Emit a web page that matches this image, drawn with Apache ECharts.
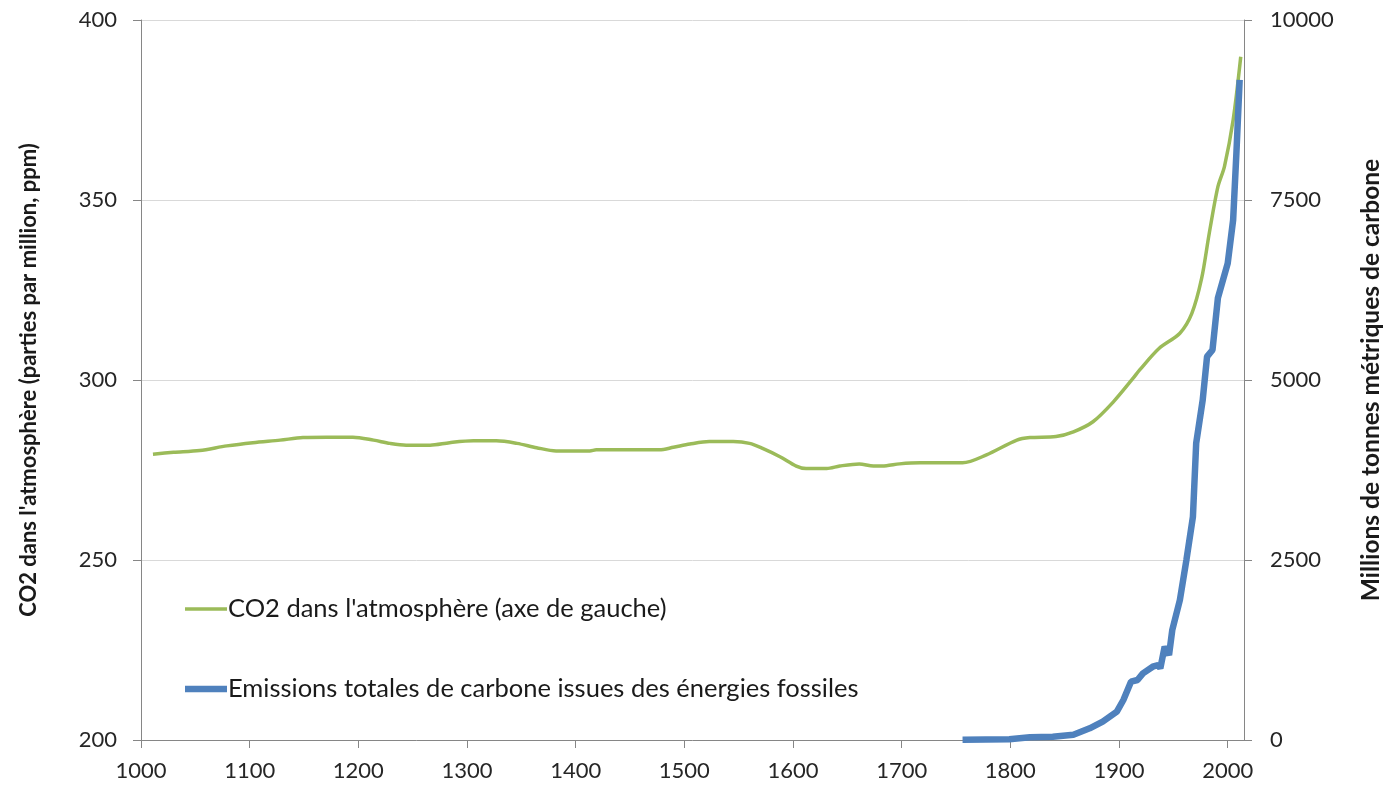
<!DOCTYPE html>
<html>
<head>
<meta charset="utf-8">
<script src="https://cdn.jsdelivr.net/npm/echarts@6/dist/echarts.min.js"></script>
<style>
  html, body { margin: 0; padding: 0; background: #fff; }
  #chart { width: 1384px; height: 788px; }
</style>
</head>
<body>
<div id="chart"></div>
<script>
// CO2 atmosphere (ppm), left axis
const co2Years = [1011, 1030, 1054, 1079, 1103, 1128, 1149, 1171, 1195, 1214, 1229, 1244, 1266, 1284, 1306, 1327, 1346, 1364,
  1382, 1413, 1419, 1477, 1490, 1505, 1523, 1545, 1560, 1572, 1588, 1603, 1612, 1631, 1643, 1661, 1674, 1686, 1698, 1717,
  1756, 1778, 1806, 1818, 1842, 1858, 1876, 1895, 1913, 1919, 1937, 1956, 1967, 1976, 1983, 1991, 1997, 2005, 2012]
const co2Ppm = [279.4, 279.9, 280.4, 281.7, 282.6, 283.3, 284.0, 284.1, 284.1, 283.3, 282.4, 281.9, 281.9, 282.6, 283.1, 283.1, 282.4, 281.2,
  280.3, 280.3, 280.6, 280.6, 281.3, 282.2, 282.9, 282.9, 282.4, 281.0, 278.7, 276.1, 275.4, 275.4, 276.1, 276.7, 276.1, 276.2, 276.7, 277.0,
  277.0, 279.2, 283.3, 284.0, 284.3, 285.6, 288.4, 294.0, 300.5, 302.8, 308.8, 313.0, 318.5, 328.2, 340.7, 353.7, 359.3, 372.2, 389.8]

// fossil carbon emissions (million tonnes), right axis
const emiYears = [1756, 1799, 1818, 1839, 1858, 1873, 1885, 1898, 1904, 1911, 1917, 1922, 1931, 1936, 1938, 1942, 1946, 1949,
  1956, 1962, 1968, 1971, 1977, 1981, 1986, 1991, 2000, 2005, 2008, 2011]
const emiMt = [5, 10, 37, 46, 74, 162, 255, 394, 556, 810, 833, 926, 1018, 1042, 996, 1296, 1181, 1528,
  1944, 2500, 3101, 4121, 4722, 5324, 5417, 6140, 6620, 7222, 8148, 9167]

const xTicks = [1000, 1100, 1200, 1300, 1400, 1500, 1600, 1700, 1800, 1900, 2000]
const leftTicks = [200, 250, 300, 350, 400]
const rightTicks = [0, 2500, 5000, 7500, 10000]

const FONT = 'Lato, "Open Sans", sans-serif'
const GREEN = '#9bbb59'
const BLUE = '#4f81bd'
const CO2_NAME = 'CO2 dans l\'atmosphère (axe de gauche)'
const EMI_NAME = 'Emissions totales de carbone issues des énergies fossiles'

const plain = v => String(v)

const chart = echarts.init(document.getElementById('chart'))
chart.setOption({
  animation: false,
  textStyle: { fontFamily: FONT },
  grid: { left: 141, right: 140, top: 20, bottom: 48, containLabel: false, outerBoundsMode: 'none' },
  legend: {
    orient: 'vertical',
    left: 180,
    top: 591,
    itemGap: 54,
    itemWidth: 42,
    itemHeight: 14,
    symbolKeepAspect: true,
    textStyle: { fontSize: 25.5, color: '#1a1a1a', fontFamily: FONT, padding: [0, 0, 0, -4] },
    data: [
      { name: CO2_NAME, icon: 'path://M0,0 L42,0 L42,3.5 L0,3.5 Z' },
      { name: EMI_NAME, icon: 'path://M0,0 L42,0 L42,6.5 L0,6.5 Z' }
    ]
  },
  xAxis: {
    type: 'value',
    min: 1000,
    max: 2015,
    interval: 100,
    axisLine: { lineStyle: { color: '#868686', width: 1 } },
    axisTick: { show: true, length: 8, customValues: xTicks, lineStyle: { color: '#868686' } },
    axisLabel: { customValues: xTicks, formatter: plain, fontSize: 22, color: '#262626', margin: 20 },
    splitLine: { show: false }
  },
  yAxis: [
    {
      type: 'value',
      min: 200,
      max: 400,
      interval: 50,
      name: 'CO2 dans l\'atmosphère (parties par million, ppm)',
      nameLocation: 'middle',
      nameGap: 101,
      nameRotate: 90,
      nameTextStyle: { fontSize: 22, fontWeight: 'bold', color: '#1a1a1a' },
      axisLine: { show: true, lineStyle: { color: '#868686' } },
      axisTick: { show: true, length: 8, lineStyle: { color: '#868686' } },
      axisLabel: { customValues: leftTicks, formatter: plain, fontSize: 22, color: '#262626', margin: 24 },
      splitLine: { show: true, lineStyle: { color: '#d9d9d9', width: 1 } }
    },
    {
      type: 'value',
      min: 0,
      max: 10000,
      interval: 2500,
      position: 'right',
      name: 'Millions de tonnes métriques de carbone',
      nameLocation: 'middle',
      nameGap: 115,
      nameRotate: 90,
      nameTextStyle: { fontSize: 24.5, fontWeight: 'bold', color: '#1a1a1a' },
      axisLine: { show: true, lineStyle: { color: '#868686' } },
      axisTick: { show: true, length: 8, lineStyle: { color: '#868686' } },
      axisLabel: { customValues: rightTicks, formatter: plain, fontSize: 22, color: '#262626', margin: 26 },
      splitLine: { show: false }
    }
  ],
  series: [
    {
      name: CO2_NAME,
      type: 'line',
      yAxisIndex: 0,
      symbol: 'none',
      smooth: 0.3,
      lineStyle: { color: GREEN, width: 3.5 },
      itemStyle: { color: GREEN },
      data: co2Years.map((y, i) => [y, co2Ppm[i]])
    },
    {
      name: EMI_NAME,
      type: 'line',
      yAxisIndex: 1,
      symbol: 'none',
      lineStyle: { color: BLUE, width: 6.5 },
      itemStyle: { color: BLUE },
      data: emiYears.map((y, i) => [y, emiMt[i]])
    }
  ]
})
</script>
</body>
</html>
